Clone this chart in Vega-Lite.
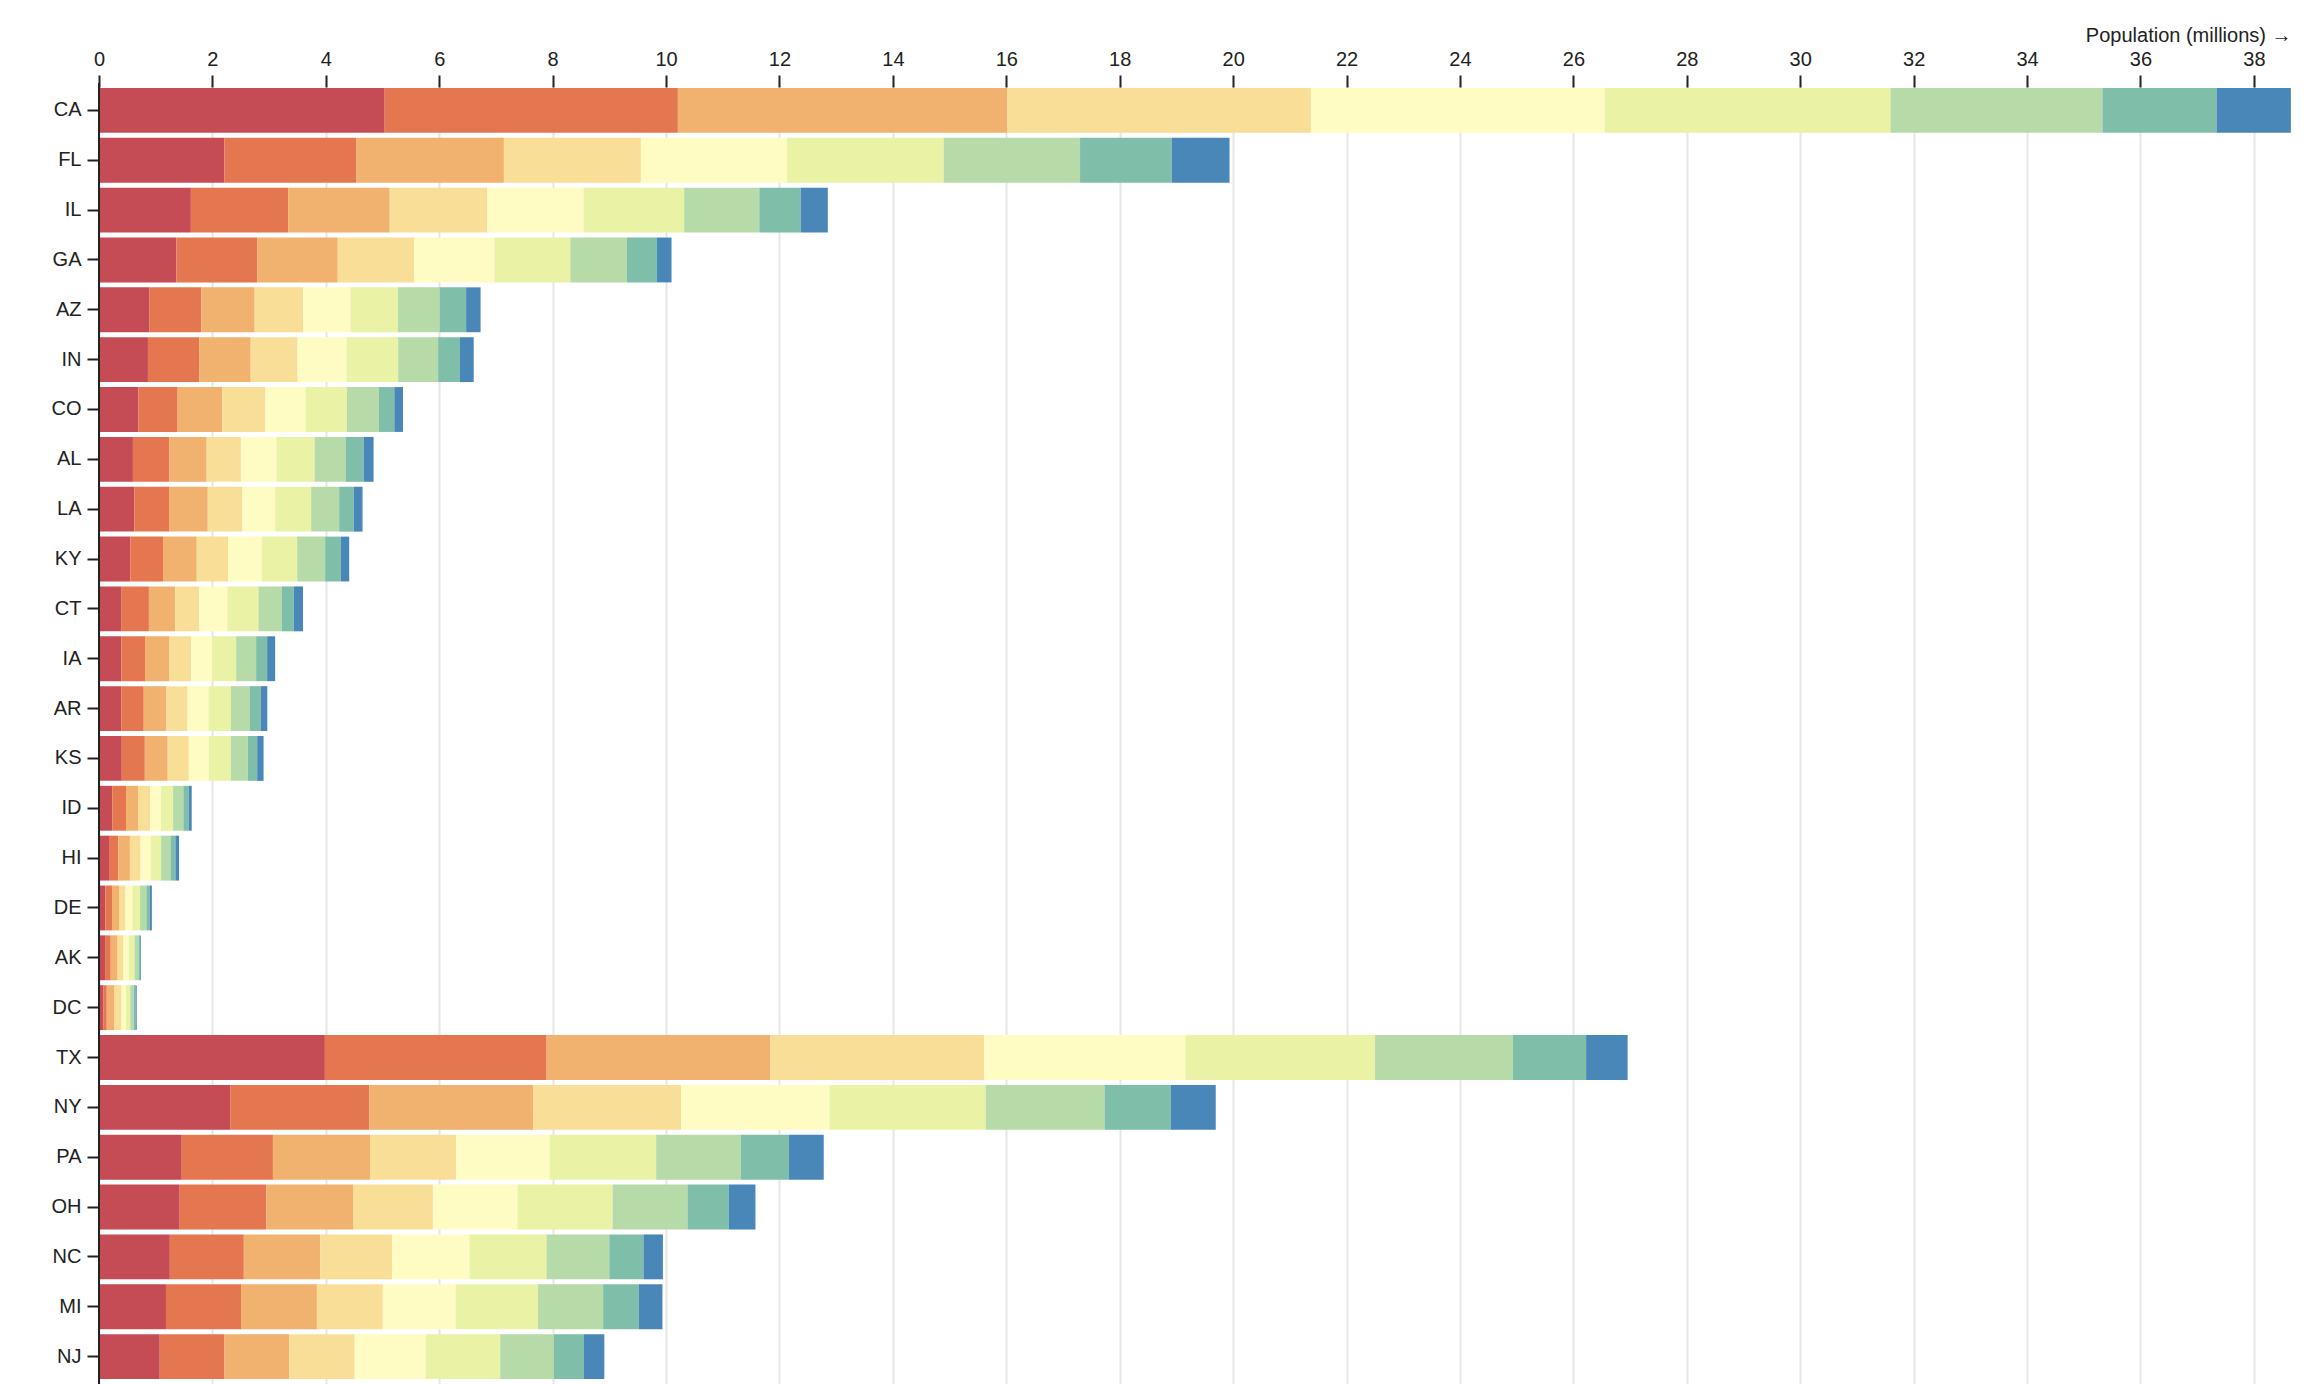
{
  "$schema": "https://vega.github.io/schema/vega-lite/v6.json",
  "autosize": {"type": "none"},
  "padding": {"left": 99, "top": 83, "right": 27, "bottom": 0},
  "width": 2192,
  "height": 1301,
  "background": "white",
  "config": {"view": {"stroke": null}, "font": "Liberation Sans"},
  "data": {"values": [
    {"state":"CA","age":"<10","population":5.038},{"state":"CA","age":"10-19","population":5.170},{"state":"CA","age":"20-29","population":5.809},{"state":"CA","age":"30-39","population":5.354},{"state":"CA","age":"40-49","population":5.179},{"state":"CA","age":"50-59","population":5.042},{"state":"CA","age":"60-69","population":3.737},{"state":"CA","age":"70-79","population":2.012},{"state":"CA","age":"≥80","population":1.311},
    {"state":"FL","age":"<10","population":2.211},{"state":"FL","age":"10-19","population":2.331},{"state":"FL","age":"20-29","population":2.598},{"state":"FL","age":"30-39","population":2.416},{"state":"FL","age":"40-49","population":2.576},{"state":"FL","age":"50-59","population":2.763},{"state":"FL","age":"60-69","population":2.405},{"state":"FL","age":"70-79","population":1.616},{"state":"FL","age":"≥80","population":1.020},
    {"state":"IL","age":"<10","population":1.620},{"state":"IL","age":"10-19","population":1.716},{"state":"IL","age":"20-29","population":1.790},{"state":"IL","age":"30-39","population":1.722},{"state":"IL","age":"40-49","population":1.697},{"state":"IL","age":"50-59","population":1.773},{"state":"IL","age":"60-69","population":1.326},{"state":"IL","age":"70-79","population":0.729},{"state":"IL","age":"≥80","population":0.479},
    {"state":"GA","age":"<10","population":1.365},{"state":"GA","age":"10-19","population":1.423},{"state":"GA","age":"20-29","population":1.422},{"state":"GA","age":"30-39","population":1.346},{"state":"GA","age":"40-49","population":1.416},{"state":"GA","age":"50-59","population":1.339},{"state":"GA","age":"60-69","population":0.997},{"state":"GA","age":"70-79","population":0.530},{"state":"GA","age":"≥80","population":0.258},
    {"state":"AZ","age":"<10","population":0.892},{"state":"AZ","age":"10-19","population":0.913},{"state":"AZ","age":"20-29","population":0.940},{"state":"AZ","age":"30-39","population":0.857},{"state":"AZ","age":"40-49","population":0.833},{"state":"AZ","age":"50-59","population":0.835},{"state":"AZ","age":"60-69","population":0.738},{"state":"AZ","age":"70-79","population":0.466},{"state":"AZ","age":"≥80","population":0.255},
    {"state":"IN","age":"<10","population":0.863},{"state":"IN","age":"10-19","population":0.906},{"state":"IN","age":"20-29","population":0.906},{"state":"IN","age":"30-39","population":0.827},{"state":"IN","age":"40-49","population":0.861},{"state":"IN","age":"50-59","population":0.912},{"state":"IN","age":"60-69","population":0.705},{"state":"IN","age":"70-79","population":0.385},{"state":"IN","age":"≥80","population":0.243},
    {"state":"CO","age":"<10","population":0.696},{"state":"CO","age":"10-19","population":0.691},{"state":"CO","age":"20-29","population":0.788},{"state":"CO","age":"30-39","population":0.759},{"state":"CO","age":"40-49","population":0.712},{"state":"CO","age":"50-59","population":0.725},{"state":"CO","age":"60-69","population":0.565},{"state":"CO","age":"70-79","population":0.272},{"state":"CO","age":"≥80","population":0.153},
    {"state":"AL","age":"<10","population":0.598},{"state":"AL","age":"10-19","population":0.639},{"state":"AL","age":"20-29","population":0.662},{"state":"AL","age":"30-39","population":0.603},{"state":"AL","age":"40-49","population":0.626},{"state":"AL","age":"50-59","population":0.674},{"state":"AL","age":"60-69","population":0.548},{"state":"AL","age":"70-79","population":0.317},{"state":"AL","age":"≥80","population":0.175},
    {"state":"LA","age":"<10","population":0.624},{"state":"LA","age":"10-19","population":0.611},{"state":"LA","age":"20-29","population":0.683},{"state":"LA","age":"30-39","population":0.611},{"state":"LA","age":"40-49","population":0.577},{"state":"LA","age":"50-59","population":0.635},{"state":"LA","age":"60-69","population":0.494},{"state":"LA","age":"70-79","population":0.259},{"state":"LA","age":"≥80","population":0.153},
    {"state":"KY","age":"<10","population":0.553},{"state":"KY","age":"10-19","population":0.576},{"state":"KY","age":"20-29","population":0.595},{"state":"KY","age":"30-39","population":0.552},{"state":"KY","age":"40-49","population":0.595},{"state":"KY","age":"50-59","population":0.623},{"state":"KY","age":"60-69","population":0.494},{"state":"KY","age":"70-79","population":0.277},{"state":"KY","age":"≥80","population":0.147},
    {"state":"CT","age":"<10","population":0.399},{"state":"CT","age":"10-19","population":0.481},{"state":"CT","age":"20-29","population":0.462},{"state":"CT","age":"30-39","population":0.425},{"state":"CT","age":"40-49","population":0.496},{"state":"CT","age":"50-59","population":0.548},{"state":"CT","age":"60-69","population":0.410},{"state":"CT","age":"70-79","population":0.215},{"state":"CT","age":"≥80","population":0.161},
    {"state":"IA","age":"<10","population":0.394},{"state":"IA","age":"10-19","population":0.418},{"state":"IA","age":"20-29","population":0.423},{"state":"IA","age":"30-39","population":0.389},{"state":"IA","age":"40-49","population":0.370},{"state":"IA","age":"50-59","population":0.424},{"state":"IA","age":"60-69","population":0.353},{"state":"IA","age":"70-79","population":0.194},{"state":"IA","age":"≥80","population":0.141},
    {"state":"AR","age":"<10","population":0.392},{"state":"AR","age":"10-19","population":0.397},{"state":"AR","age":"20-29","population":0.400},{"state":"AR","age":"30-39","population":0.373},{"state":"AR","age":"40-49","population":0.370},{"state":"AR","age":"50-59","population":0.395},{"state":"AR","age":"60-69","population":0.330},{"state":"AR","age":"70-79","population":0.198},{"state":"AR","age":"≥80","population":0.113},
    {"state":"KS","age":"<10","population":0.402},{"state":"KS","age":"10-19","population":0.406},{"state":"KS","age":"20-29","population":0.404},{"state":"KS","age":"30-39","population":0.372},{"state":"KS","age":"40-49","population":0.350},{"state":"KS","age":"50-59","population":0.390},{"state":"KS","age":"60-69","population":0.303},{"state":"KS","age":"70-79","population":0.162},{"state":"KS","age":"≥80","population":0.113},
    {"state":"ID","age":"<10","population":0.235},{"state":"ID","age":"10-19","population":0.241},{"state":"ID","age":"20-29","population":0.212},{"state":"ID","age":"30-39","population":0.212},{"state":"ID","age":"40-49","population":0.194},{"state":"ID","age":"50-59","population":0.212},{"state":"ID","age":"60-69","population":0.182},{"state":"ID","age":"70-79","population":0.094},{"state":"ID","age":"≥80","population":0.053},
    {"state":"HI","age":"<10","population":0.176},{"state":"HI","age":"10-19","population":0.164},{"state":"HI","age":"20-29","population":0.205},{"state":"HI","age":"30-39","population":0.188},{"state":"HI","age":"40-49","population":0.178},{"state":"HI","age":"50-59","population":0.184},{"state":"HI","age":"60-69","population":0.166},{"state":"HI","age":"70-79","population":0.087},{"state":"HI","age":"≥80","population":0.064},
    {"state":"DE","age":"<10","population":0.112},{"state":"DE","age":"10-19","population":0.117},{"state":"DE","age":"20-29","population":0.124},{"state":"DE","age":"30-39","population":0.115},{"state":"DE","age":"40-49","population":0.120},{"state":"DE","age":"50-59","population":0.136},{"state":"DE","age":"60-69","population":0.112},{"state":"DE","age":"70-79","population":0.061},{"state":"DE","age":"≥80","population":0.035},
    {"state":"AK","age":"<10","population":0.107},{"state":"AK","age":"10-19","population":0.100},{"state":"AK","age":"20-29","population":0.121},{"state":"AK","age":"30-39","population":0.102},{"state":"AK","age":"40-49","population":0.092},{"state":"AK","age":"50-59","population":0.105},{"state":"AK","age":"60-69","population":0.070},{"state":"AK","age":"70-79","population":0.028},{"state":"AK","age":"≥80","population":0.013},
    {"state":"DC","age":"<10","population":0.074},{"state":"DC","age":"10-19","population":0.063},{"state":"DC","age":"20-29","population":0.137},{"state":"DC","age":"30-39","population":0.122},{"state":"DC","age":"40-49","population":0.080},{"state":"DC","age":"50-59","population":0.075},{"state":"DC","age":"60-69","population":0.062},{"state":"DC","age":"70-79","population":0.031},{"state":"DC","age":"≥80","population":0.021},
    {"state":"TX","age":"<10","population":3.983},{"state":"TX","age":"10-19","population":3.911},{"state":"TX","age":"20-29","population":3.946},{"state":"TX","age":"30-39","population":3.771},{"state":"TX","age":"40-49","population":3.546},{"state":"TX","age":"50-59","population":3.345},{"state":"TX","age":"60-69","population":2.431},{"state":"TX","age":"70-79","population":1.291},{"state":"TX","age":"≥80","population":0.732},
    {"state":"NY","age":"<10","population":2.320},{"state":"NY","age":"10-19","population":2.445},{"state":"NY","age":"20-29","population":2.894},{"state":"NY","age":"30-39","population":2.605},{"state":"NY","age":"40-49","population":2.617},{"state":"NY","age":"50-59","population":2.756},{"state":"NY","age":"60-69","population":2.095},{"state":"NY","age":"70-79","population":1.166},{"state":"NY","age":"≥80","population":0.795},
    {"state":"PA","age":"<10","population":1.459},{"state":"PA","age":"10-19","population":1.608},{"state":"PA","age":"20-29","population":1.712},{"state":"PA","age":"30-39","population":1.520},{"state":"PA","age":"40-49","population":1.645},{"state":"PA","age":"50-59","population":1.881},{"state":"PA","age":"60-69","population":1.492},{"state":"PA","age":"70-79","population":0.851},{"state":"PA","age":"≥80","population":0.612},
    {"state":"OH","age":"<10","population":1.423},{"state":"OH","age":"10-19","population":1.530},{"state":"OH","age":"20-29","population":1.536},{"state":"OH","age":"30-39","population":1.399},{"state":"OH","age":"40-49","population":1.491},{"state":"OH","age":"50-59","population":1.678},{"state":"OH","age":"60-69","population":1.321},{"state":"OH","age":"70-79","population":0.727},{"state":"OH","age":"≥80","population":0.471},
    {"state":"NC","age":"<10","population":1.249},{"state":"NC","age":"10-19","population":1.305},{"state":"NC","age":"20-29","population":1.350},{"state":"NC","age":"30-39","population":1.269},{"state":"NC","age":"40-49","population":1.360},{"state":"NC","age":"50-59","population":1.359},{"state":"NC","age":"60-69","population":1.107},{"state":"NC","age":"70-79","population":0.603},{"state":"NC","age":"≥80","population":0.342},
    {"state":"MI","age":"<10","population":1.181},{"state":"MI","age":"10-19","population":1.324},{"state":"MI","age":"20-29","population":1.338},{"state":"MI","age":"30-39","population":1.162},{"state":"MI","age":"40-49","population":1.283},{"state":"MI","age":"50-59","population":1.454},{"state":"MI","age":"60-69","population":1.148},{"state":"MI","age":"70-79","population":0.628},{"state":"MI","age":"≥80","population":0.418},
    {"state":"NJ","age":"<10","population":1.071},{"state":"NJ","age":"10-19","population":1.143},{"state":"NJ","age":"20-29","population":1.143},{"state":"NJ","age":"30-39","population":1.152},{"state":"NJ","age":"40-49","population":1.252},{"state":"NJ","age":"50-59","population":1.314},{"state":"NJ","age":"60-69","population":0.945},{"state":"NJ","age":"70-79","population":0.531},{"state":"NJ","age":"≥80","population":0.360}
  ]},
  "layer": [
    {
      "transform": [
        {"window": [{"op": "row_number", "as": "ageRank"}], "groupby": ["state"]}
      ],
      "mark": {"type": "bar"},
      "encoding": {
        "y": {
          "field": "state", "type": "nominal",
          "scale": {"domain": ["CA","FL","IL","GA","AZ","IN","CO","AL","LA","KY","CT","IA","AR","KS","ID","HI","DE","AK","DC","TX","NY","PA","OH","NC","MI","NJ"], "paddingInner": 0.1, "paddingOuter": 0.1},
          "axis": {"domain": false, "grid": false, "tickSize": 12, "tickWidth": 2, "tickColor": "#222", "labelFontSize": 20, "labelColor": "#222", "labelPadding": 6, "title": null}
        },
        "x": {
          "field": "population", "type": "quantitative", "stack": "zero",
          "scale": {"domain": [0, 38.654], "nice": false, "zero": true},
          "axis": {"orient": "top", "values": [0,2,4,6,8,10,12,14,16,18,20,22,24,26,28,30,32,34,36,38], "format": "d", "domain": false, "tickSize": 12, "tickWidth": 2, "tickColor": "#222", "labelFontSize": 20, "labelColor": "#222", "labelPadding": 6, "labelFlush": false, "grid": true, "gridColor": "#e6e6e6", "gridWidth": 2, "offset": -4, "title": "Population (millions) →", "titleFontSize": 20, "titleFontWeight": "normal", "titleColor": "#222", "titleAnchor": "end", "titleAlign": "right", "titlePadding": 4}
        },
        "order": {"field": "ageRank", "type": "quantitative", "sort": "ascending"},
        "color": {
          "field": "age", "type": "ordinal",
          "sort": ["<10","10-19","20-29","30-39","40-49","50-59","60-69","70-79","≥80"],
          "scale": {"domain": ["<10","10-19","20-29","30-39","40-49","50-59","60-69","70-79","≥80"], "range": ["#c54b55","#e57750","#f1b16f","#f9de97","#fefcc3","#e9f2a5","#b6dba8","#7fbea8","#4987b9"]},
          "legend": null
        }
      }
    },
    {
      "data": {"values": [{"zero": 0}]},
      "mark": {"type": "rule", "color": "#222", "strokeWidth": 2},
      "encoding": {"x": {"field": "zero", "type": "quantitative"}}
    }
  ]
}
